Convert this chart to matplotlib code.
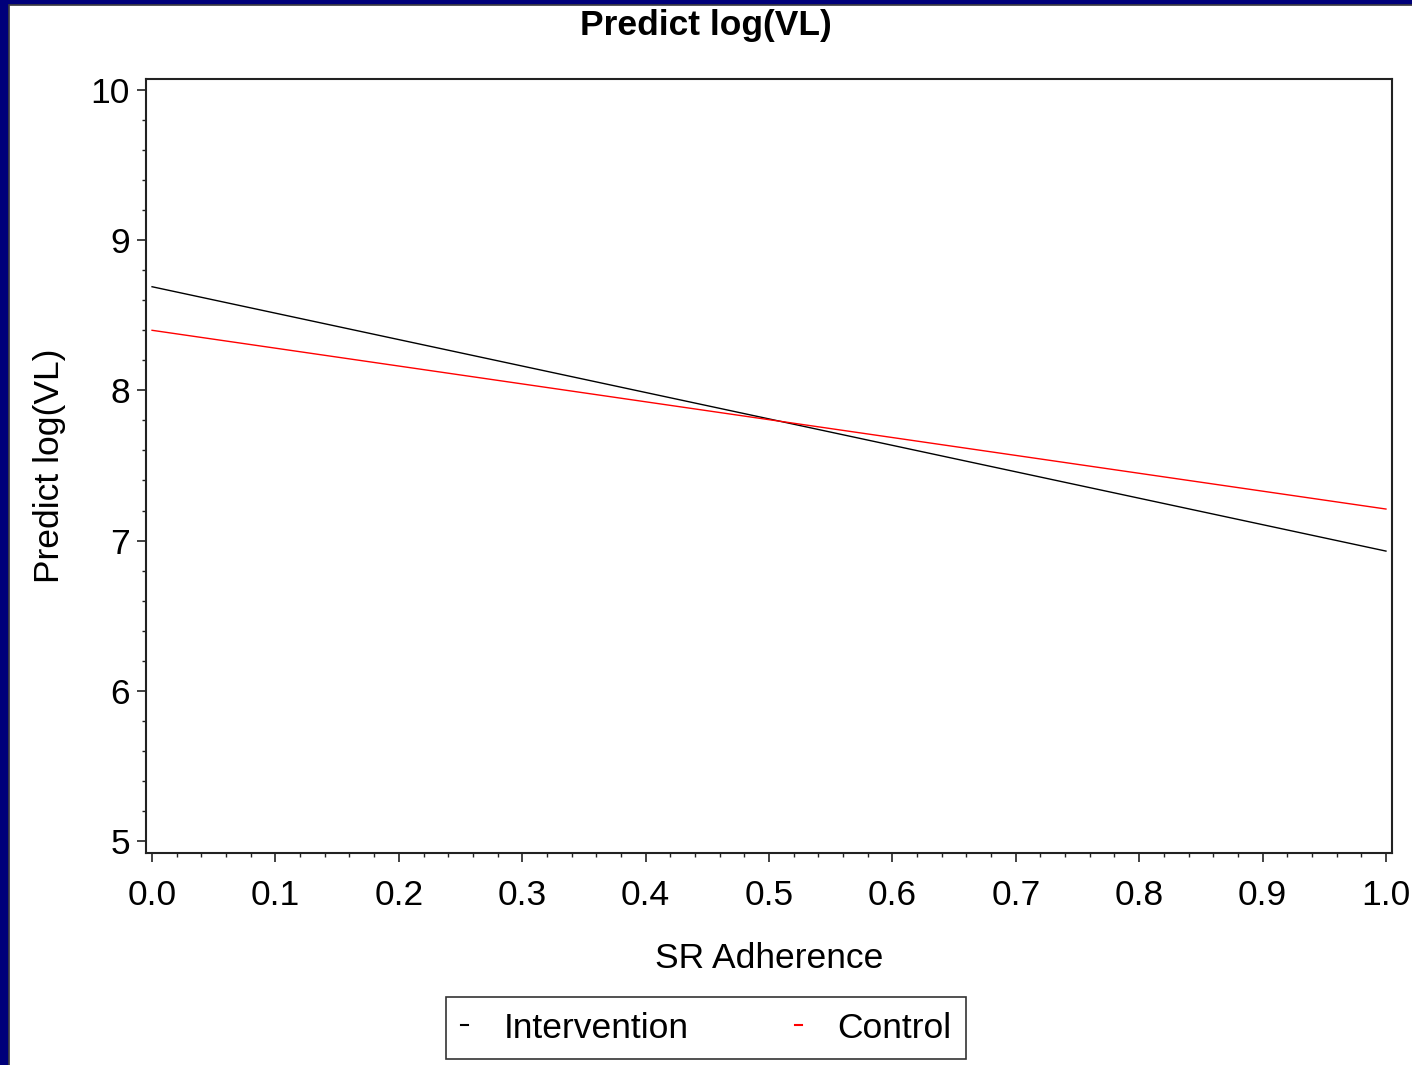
import numpy as np
import matplotlib
matplotlib.use("Agg")
import matplotlib.pyplot as plt
from matplotlib.patches import Rectangle
from matplotlib.ticker import MultipleLocator

plt.rcParams["font.family"] = ["Liberation Sans", "DejaVu Sans"]

# fitted lines, read at the two ends of the adherence range
adherence = [0.0, 1.0]
intervention = [8.69, 6.93]
control = [8.40, 7.21]
series_names = ["Intervention", "Control"]
series_colors = ["black", "red"]

W, H = 1412, 1065
FS = 25.5
fig = plt.figure(figsize=(W / 100, H / 100), dpi=100)

# slide frame: navy bar on the left and top
fig.patches.append(Rectangle((0, 0), 8 / W, 1, transform=fig.transFigure,
                             color="#00007a", zorder=0))
fig.patches.append(Rectangle((0, 1 - 4 / H), 1, 4 / H, transform=fig.transFigure,
                             color="#00007a", zorder=0))
fig.patches.append(Rectangle((8.5 / W, -0.01), 1.2, 1 - 4.5 / H + 0.01,
                             transform=fig.transFigure, fill=False,
                             edgecolor="#404040", linewidth=1.2, zorder=1))

ax = fig.add_axes([146 / W, 1 - 853 / H, (1392 - 146) / W, (853 - 79) / H])

for ys, name, col in zip([intervention, control], series_names, series_colors):
    ax.plot(adherence, ys, color=col, linewidth=1.0, label=name)

ax.set_xlim(-0.0049, 1.0049)
ax.set_ylim(4.92, 10.073)
ax.xaxis.set_major_locator(MultipleLocator(0.1))
ax.xaxis.set_minor_locator(MultipleLocator(0.02))
ax.yaxis.set_major_locator(MultipleLocator(1))
ax.yaxis.set_minor_locator(MultipleLocator(0.2))
ax.xaxis.set_major_formatter(matplotlib.ticker.FormatStrFormatter("%.1f"))

for s in ax.spines.values():
    s.set_linewidth(1.5)
    s.set_color("#222222")

ax.tick_params(which="major", direction="out", length=6.5, width=1.2,
               labelsize=FS, color="#222222")
ax.tick_params(which="minor", direction="out", length=3, width=1.0,
               color="#222222")
ax.tick_params(axis="x", which="major", pad=12)
ax.tick_params(axis="y", which="major", pad=5)

ax.set_xlabel("SR Adherence", fontsize=FS, labelpad=22)
ax.set_ylabel("Predict log(VL)", fontsize=FS, labelpad=18)

fig.suptitle("Predict log(VL)", x=0.5, y=1 - 26 / H, va="center",
             fontsize=FS, fontweight="bold")

leg = fig.legend(loc="center", bbox_to_anchor=(0.5, 1 - 1028 / H), ncol=2,
                 fontsize=FS, frameon=True, fancybox=False, handlelength=0.2,
                 handletextpad=1.0, columnspacing=3.0, borderpad=0.42,
                 borderaxespad=0)
leg.get_frame().set_edgecolor("black")
leg.get_frame().set_linewidth(1.2)
for h in leg.get_lines():
    h.set_linewidth(1.5)

fig.savefig("out.png", dpi=100, facecolor="white")
